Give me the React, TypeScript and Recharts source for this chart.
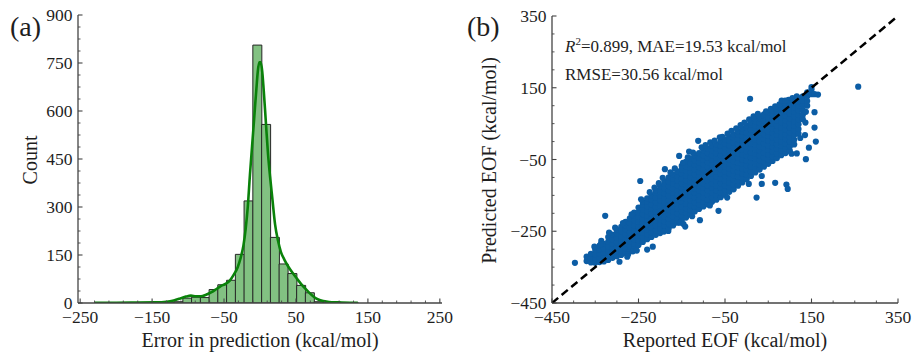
import React from 'react';
import {
  ComposedChart,
  ScatterChart,
  Bar,
  Line,
  Scatter,
  XAxis,
  YAxis,
  Label,
} from 'recharts';

// (a) histogram of prediction errors, 30 bins
const binCenters = [
  -222.9, -210.7, -198.6, -186.4, -174.2, -162.1, -149.9, -137.7, -125.6, -113.4,
  -101.2, -89.1, -76.9, -64.7, -52.6, -40.4, -28.2, -16.1, -3.9, 8.3,
  20.5, 32.6, 44.8, 57.0, 69.1, 81.3, 93.5, 105.6, 117.8, 130.0,
];
const binCounts = [
  1, 0, 0, 1, 0, 1, 1, 2, 3, 4,
  15, 18, 17, 42, 57, 71, 152, 319, 806, 558,
  205, 122, 92, 55, 32, 4, 2, 1, 1, 1,
];

// kde curve (scaled to counts)
const kdeX = [
  -230, -200, -170, -145, -130, -120, -111, -103, -96, -89, -82, -75, -68, -61, -55, -48,
  -42, -36, -31, -27, -23, -20, -17, -14, -11, -8, -5, -3, -1, 1, 3, 5, 8, 11, 14, 17,
  21, 25, 29, 34, 39, 45, 51, 57, 63, 69, 75, 81, 88, 96, 110, 125, 136,
];
const kdeY = [
  1, 1, 1.5, 2, 4, 8, 14, 20, 23, 21, 21, 26, 33, 43, 52, 60,
  70, 90, 112, 140, 180, 230, 300, 400, 490, 580, 670, 725, 752, 752, 725, 670, 570, 470, 395, 330,
  245, 195, 160, 135, 115, 95, 77, 60, 45, 31, 19, 11, 6, 3, 2, 1, 0.5,
];

const histMajorX = [-250, -150, -50, 50, 150, 250];
const histMinorX = [-230, -210, -190, -170, -130, -110, -90, -70, -30, -10, 10, 30, 70, 90, 110, 130, 170, 190, 210, 230];
const histMajorY = [0, 150, 300, 450, 600, 750, 900];
const histMinorY = [
  37.5, 75, 112.5, 187.5, 225, 262.5, 337.5, 375, 412.5, 487.5, 525, 562.5,
  637.5, 675, 712.5, 787.5, 825, 862.5,
];

// (b) parity plot: reported vs predicted EOF, read column by column
const bandColumns: [number, number[]][] = [
  [-370, [-333, -321]],
  [-360, [-337, -325, -313]],
  [-350, [-338, -326, -314, -302]],
  [-340, [-336, -324, -312, -300, -290]],
  [-330, [-334, -322, -310, -298, -285]],
  [-320, [-330, -318, -305, -292, -279, -266]],
  [-310, [-324, -311, -298, -285, -272, -259]],
  [-300, [-320, -307, -294, -281, -268, -255, -246]],
  [-290, [-316, -303, -290, -277, -264, -251, -238]],
  [-280, [-311, -298, -285, -272, -259, -246, -233, -224]],
  [-270, [-305, -292, -279, -266, -253, -240, -227, -214]],
  [-260, [-298, -285, -272, -259, -246, -233, -220, -207, -198]],
  [-250, [-288, -275, -262, -249, -236, -223, -210, -197, -184]],
  [-240, [-280, -267, -254, -241, -228, -215, -202, -189, -176, -168]],
  [-230, [-272, -259, -246, -233, -220, -207, -194, -181, -168, -158]],
  [-220, [-266, -253, -240, -227, -214, -201, -188, -175, -162, -150]],
  [-210, [-260, -247, -234, -221, -208, -195, -182, -169, -156, -143, -136]],
  [-200, [-255, -242, -229, -216, -203, -190, -177, -164, -151, -138, -125]],
  [-190, [-248, -235, -222, -209, -196, -183, -170, -157, -144, -131, -118, -110]],
  [-180, [-241, -228, -215, -202, -189, -176, -163, -150, -137, -124, -111, -100]],
  [-170, [-234, -221, -208, -195, -182, -169, -156, -143, -130, -117, -104, -92]],
  [-160, [-226, -213, -200, -187, -174, -161, -148, -135, -122, -109, -96, -83]],
  [-150, [-220, -207, -194, -181, -168, -155, -142, -129, -116, -103, -90, -77, -68]],
  [-140, [-212, -199, -186, -173, -160, -147, -134, -121, -108, -95, -82, -69, -56]],
  [-130, [-203, -190, -177, -164, -151, -138, -125, -112, -99, -86, -73, -60, -47]],
  [-120, [-195, -182, -169, -156, -143, -130, -117, -104, -91, -78, -65, -52, -38]],
  [-110, [-188, -175, -162, -149, -136, -123, -110, -97, -84, -71, -58, -45, -32]],
  [-100, [-181, -168, -155, -142, -129, -116, -103, -90, -77, -64, -51, -38, -25]],
  [-90, [-175, -162, -149, -136, -123, -110, -97, -84, -71, -58, -45, -32, -19]],
  [-80, [-168, -155, -142, -129, -116, -103, -90, -77, -64, -51, -38, -25, -12]],
  [-70, [-162, -149, -136, -123, -110, -97, -84, -71, -58, -45, -32, -19, -7]],
  [-60, [-155, -142, -129, -116, -103, -90, -77, -64, -51, -38, -25, -12, 0]],
  [-50, [-148, -135, -122, -109, -96, -83, -70, -57, -44, -31, -18, -5, 6]],
  [-40, [-140, -127, -114, -101, -88, -75, -62, -49, -36, -23, -10, 3, 13]],
  [-30, [-133, -120, -107, -94, -81, -68, -55, -42, -29, -16, -3, 10, 20]],
  [-20, [-123, -110, -97, -84, -71, -58, -45, -32, -19, -6, 7, 20, 29]],
  [-10, [-114, -101, -88, -75, -62, -49, -36, -23, -10, 3, 16, 29, 37]],
  [0, [-105, -92, -79, -66, -53, -40, -27, -14, -1, 12, 25, 38, 45]],
  [10, [-96, -83, -70, -57, -44, -31, -18, -5, 8, 21, 34, 47, 54]],
  [20, [-86, -73, -60, -47, -34, -21, -8, 5, 18, 31, 44, 57, 63]],
  [30, [-78, -65, -52, -39, -26, -13, 0, 13, 26, 39, 52, 65, 70]],
  [40, [-70, -57, -44, -31, -18, -5, 8, 21, 34, 47, 60, 72, 76]],
  [50, [-62, -49, -36, -23, -10, 3, 16, 29, 42, 55, 68, 80]],
  [60, [-54, -41, -28, -15, -2, 11, 24, 37, 50, 63, 76, 87]],
  [70, [-46, -33, -20, -7, 6, 19, 32, 45, 58, 71, 84, 92]],
  [80, [-38, -25, -12, 1, 14, 27, 40, 53, 66, 79, 92, 98]],
  [90, [-32, -19, -6, 7, 20, 33, 46, 59, 72, 85, 98, 104]],
  [100, [-26, -13, 0, 13, 26, 39, 52, 65, 78, 91, 104, 110]],
  [110, [-8, 5, 18, 31, 44, 57, 70, 83, 96, 108, 116]],
  [120, [22, 35, 48, 61, 74, 87, 100, 112, 121]],
  [130, [62, 75, 88, 101, 114, 126]],
  [140, [100, 113, 126, 137]],
  [150, [132, 145, 152]],
];
// loose points along the ragged edges of the band
const fringe: [number, number][] = [
  [-352, -293], [-336, -277], [-318, -254], [-304, -240], [-286, -227], [-274, -314],
  [-263, -306], [-266, -203], [-244, -161], [-224, -141], [-213, -128], [-203, -116],
  [-194, -101], [-176, -86], [-166, -75], [-147, -59], [-136, -44], [-126, -208],
  [-124, -31], [-104, -16], [-95, -10], [-85, -178], [-84, -2], [-74, 3], [-56, 13],
  [-45, -156], [-44, 22], [-35, 30], [-24, 37], [-14, 46], [-5, 53], [5, -118],
  [6, 62], [16, 70], [26, 77], [35, -96], [45, 84], [56, 91], [66, 98], [76, 104],
  [86, 110], [97, 116], [104, -34], [106, 121], [116, 126], [124, 10],
];
const outliers: [number, number][] = [
  [-397, -338], [-337, -286], [-327, -207], [-294, -335], [-276, -321], [-254, -304],
  [-230, -301], [-217, -293], [-246, -110], [-191, -251], [-181, -249], [-189, -77],
  [-154, -226], [-142, -237], [-146, -230], [-156, -40], [-133, -28], [-112, 2],
  [-108, -219], [-65, -193], [-62, 12], [8, 119], [23, -156], [35, -118], [66, -115],
  [92, -120], [95, -132], [81, 114], [89, 114], [116, -33], [137, -49], [144, -17],
  [135, 18], [160, 0], [136, 53], [157, 39], [137, 83], [157, 82], [157, 132],
  [165, 131], [258, 153],
];
const diagonal = [
  { x: -450, y: -450 },
  { x: 350, y: 350 },
];

const parityMajor = [-450, -250, -50, 150, 350];
const parityMinor = [-400, -350, -300, -200, -150, -100, 0, 50, 100, 200, 250, 300];

const histData = binCenters.map((c, i) => ({ center: c, count: binCounts[i] }));
const kdeData = kdeX.map((x, i) => ({ kx: x, density: kdeY[i] }));
const scatterData = [
  ...bandColumns.flatMap(([x, ys]) => ys.map((y) => ({ x, y }))),
  ...fringe.map(([x, y]) => ({ x, y })),
  ...outliers.map(([x, y]) => ({ x, y })),
];

const FONT = '"Liberation Serif", "Times New Roman", serif';
const FRAME = '#444';
const INK = '#1e1e1e';

const fmt = (v: number) => (v < 0 ? `\u2212${Math.abs(v)}` : `${v}`);

type Side = 'bottom' | 'top' | 'left' | 'right';

function makeTick(side: Side, majors: number[], withLabel: boolean) {
  return function Tick(props: any) {
    const { x, y, payload } = props;
    const v = payload.value;
    const major = majors.includes(v);
    const len = major ? 4.5 : 2.5;
    let x2 = x;
    let y2 = y;
    if (side === 'bottom') y2 = y - len;
    else if (side === 'top') y2 = y + len;
    else if (side === 'left') x2 = x + len;
    else x2 = x - len;
    return (
      <g>
        <line x1={x} y1={y} x2={x2} y2={y2} stroke={FRAME} strokeWidth={major ? 1.1 : 0.9} />
        {withLabel && major && side === 'bottom' && (
          <text x={x} y={y + 19.5} textAnchor="middle" fontFamily={FONT} fontSize={17.5} fill={INK}>
            {fmt(v)}
          </text>
        )}
        {withLabel && major && side === 'left' && (
          <text x={x - 5.5} y={y + 6.2} textAnchor="end" fontFamily={FONT} fontSize={17.5} fill={INK}>
            {fmt(v)}
          </text>
        )}
      </g>
    );
  };
}

function xTitle(text: string) {
  return function XTitle(props: any) {
    const vb = props.viewBox;
    return (
      <text x={vb.x + vb.width / 2} y={vb.y + 43.5} textAnchor="middle" fontFamily={FONT} fontSize={20} fill={INK}>
        {text}
      </text>
    );
  };
}

function yTitle(text: string, gap: number) {
  return function YTitle(props: any) {
    const vb = props.viewBox;
    const cx = vb.x + vb.width - gap;
    const cy = vb.y + vb.height / 2 + 1;
    return (
      <text
        x={cx}
        y={cy}
        transform={`rotate(-90 ${cx} ${cy})`}
        textAnchor="middle"
        dominantBaseline="central"
        fontFamily={FONT}
        fontSize={20}
        fill={INK}
      >
        {text}
      </text>
    );
  };
}

const axisLine = { stroke: FRAME, strokeWidth: 1.3 };
const histXTicks = [...histMajorX, ...histMinorX];
const histYTicks = [...histMajorY, ...histMinorY];
const parityTicks = [...parityMajor, ...parityMinor];

function ErrorHistogram() {
  return (
    <ComposedChart
      width={457}
      height={352}
      data={histData}
      margin={{ top: 15, right: 15, bottom: 0, left: 18 }}
      barCategoryGap={0}
      barGap={0}
    >
      <XAxis
        dataKey="center"
        type="number"
        domain={[-253, 253]}
        allowDataOverflow
        ticks={histXTicks}
        interval={0}
        tick={makeTick('bottom', histMajorX, true)}
        tickLine={false}
        tickSize={0}
        tickMargin={0}
        axisLine={axisLine}
        height={49}
      >
        <Label content={xTitle('Error in prediction (kcal/mol)')} />
      </XAxis>
      <XAxis xAxisId="kde" dataKey="kx" type="number" domain={[-253, 253]} allowDataOverflow hide />
      <XAxis
        xAxisId="top"
        orientation="top"
        type="number"
        domain={[-253, 253]}
        allowDataOverflow
        ticks={histXTicks}
        interval={0}
        tick={makeTick('top', histMajorX, false)}
        tickLine={false}
        tickSize={0}
        tickMargin={0}
        axisLine={axisLine}
        height={0}
      />
      <YAxis
        type="number"
        domain={[0, 900]}
        allowDataOverflow
        ticks={histYTicks}
        interval={0}
        tick={makeTick('left', histMajorY, true)}
        tickLine={false}
        tickSize={0}
        tickMargin={0}
        axisLine={axisLine}
        width={60}
      >
        <Label content={yTitle('Count', 48)} />
      </YAxis>
      <YAxis
        yAxisId="right"
        orientation="right"
        type="number"
        domain={[0, 900]}
        allowDataOverflow
        ticks={histYTicks}
        interval={0}
        tick={makeTick('right', histMajorY, false)}
        tickLine={false}
        tickSize={0}
        tickMargin={0}
        axisLine={axisLine}
        width={0}
      />
      <Bar
        dataKey="count"
        fill="#82c182"
        stroke="#262626"
        strokeWidth={1}
        isAnimationActive={false}
      />
      <Line
        xAxisId="kde"
        data={kdeData}
        dataKey="density"
        type="monotone"
        stroke="#0a820a"
        strokeWidth={2.6}
        dot={false}
        activeDot={false}
        isAnimationActive={false}
      />
    </ComposedChart>
  );
}

function ParityPlot() {
  return (
    <ScatterChart width={457} height={352} margin={{ top: 16, right: 16, bottom: 0, left: 35 }}>
      <XAxis
        dataKey="x"
        type="number"
        domain={[-450, 350]}
        allowDataOverflow
        ticks={parityTicks}
        interval={0}
        tick={makeTick('bottom', parityMajor, true)}
        tickLine={false}
        tickSize={0}
        tickMargin={0}
        axisLine={axisLine}
        height={49}
      >
        <Label content={xTitle('Reported EOF (kcal/mol)')} />
      </XAxis>
      <XAxis
        xAxisId="top"
        orientation="top"
        type="number"
        domain={[-450, 350]}
        allowDataOverflow
        ticks={parityTicks}
        interval={0}
        tick={makeTick('top', parityMajor, false)}
        tickLine={false}
        tickSize={0}
        tickMargin={0}
        axisLine={axisLine}
        height={0}
      />
      <YAxis
        dataKey="y"
        type="number"
        domain={[-450, 350]}
        allowDataOverflow
        ticks={parityTicks}
        interval={0}
        tick={makeTick('left', parityMajor, true)}
        tickLine={false}
        tickSize={0}
        tickMargin={0}
        axisLine={axisLine}
        width={60}
      >
        <Label content={yTitle('Predicted EOF (kcal/mol)', 63.5)} />
      </YAxis>
      <YAxis
        yAxisId="right"
        orientation="right"
        type="number"
        domain={[-450, 350]}
        allowDataOverflow
        ticks={parityTicks}
        interval={0}
        tick={makeTick('right', parityMajor, false)}
        tickLine={false}
        tickSize={0}
        tickMargin={0}
        axisLine={axisLine}
        width={0}
      />
      <Scatter
        data={scatterData}
        isAnimationActive={false}
        shape={(p: any) => <circle cx={p.cx} cy={p.cy} r={3.1} fill="#0C5DA5" />}
      />
      {/* y = x reference, drawn after the points so it sits on top */}
      <Scatter
        data={diagonal}
        isAnimationActive={false}
        line={{ stroke: '#000', strokeWidth: 2.5, strokeDasharray: '8 4.5' }}
        lineType="joint"
        shape={() => <g />}
      />
    </ScatterChart>
  );
}

export default function App() {
  return (
    <div style={{ position: 'absolute', left: 0, top: 0, width: 914, height: 352, background: '#fff' }}>
      <div style={{ position: 'absolute', left: 0, top: 0 }}>
        <ErrorHistogram />
      </div>
      <div style={{ position: 'absolute', left: 457, top: 0 }}>
        <ParityPlot />
      </div>
      <svg
        width={914}
        height={352}
        style={{ position: 'absolute', left: 0, top: 0, pointerEvents: 'none' }}
        fontFamily={FONT}
        fill={INK}
      >
        <text x={10} y={36} fontSize={28}>(a)</text>
        <text x={467} y={36} fontSize={28}>(b)</text>
        <text x={565} y={51.5} fontSize={17}>
          <tspan fontStyle="italic">R</tspan>
          <tspan dy={-7} fontSize={11}>2</tspan>
          <tspan dy={7}>=0.899, MAE=19.53 kcal/mol</tspan>
        </text>
        <text x={565} y={80} fontSize={17}>RMSE=30.56 kcal/mol</text>
      </svg>
    </div>
  );
}
